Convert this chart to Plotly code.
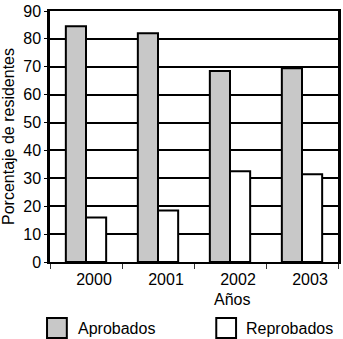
import plotly.graph_objects as go

years = ["2000", "2001", "2002", "2003"]
aprobados = [84.5, 82, 68.5, 69.5]
reprobados = [16, 18.5, 32.5, 31.5]
series_names = ["Aprobados", "Reprobados"]
y_ticks = [0, 10, 20, 30, 40, 50, 60, 70, 80, 90]

W, H = 343, 339
L, R, T, B = 50, 2, 11, 77
pw, ph = W - L - R, H - T - B

def px(x):
    return (x - L) / pw

def py(y):
    return (H - B - y) / ph

FONT = "Liberation Sans, Arial, sans-serif"
GRAY = "#c8c8c8"

fig = go.Figure()
fig.add_trace(go.Bar(x=years, y=aprobados, name=series_names[0],
                     marker=dict(color=GRAY, line=dict(color="black", width=2)),
                     showlegend=False))
fig.add_trace(go.Bar(x=years, y=reprobados, name=series_names[1],
                     marker=dict(color="white", line=dict(color="black", width=2)),
                     showlegend=False))

fig.update_layout(
    width=W, height=H, autosize=False,
    margin=dict(l=L, r=R, t=T, b=B),
    paper_bgcolor="white", plot_bgcolor="white",
    barmode="group", bargap=0.44, bargroupgap=0,
    font=dict(family=FONT, size=16, color="black"),
    xaxis=dict(type="category", showline=True, linecolor="black", linewidth=2,
               mirror=True, ticks="outside", tickson="boundaries", ticklen=5,
               tickcolor="#333", tickwidth=1, showgrid=False,
               ticklabelshift=8, ticklabelstandoff=2, tickfont=dict(size=16)),
    yaxis=dict(range=[0, 90], tickvals=y_ticks, showline=True, linecolor="black",
               linewidth=2.5, mirror=True, ticks="outside", ticklen=3,
               tickcolor="black", showgrid=True, gridcolor="black", gridwidth=1.5,
               zeroline=False, tickfont=dict(size=16),
               title=dict(text="Porcentaje de residentes", standoff=5,
                          font=dict(size=16))),
)

fig.add_annotation(text="Años", xref="paper", yref="paper", x=px(234), y=py(299),
                   xanchor="center", yanchor="middle", showarrow=False,
                   font=dict(size=16))

legend_items = [(series_names[0], GRAY, 47, 67, 76), (series_names[1], "white", 218, 238, 246)]
for name, col, x0, x1, tx in legend_items:
    fig.add_shape(type="rect", xref="paper", yref="paper",
                  x0=px(x0), x1=px(x1), y0=py(318), y1=py(338),
                  fillcolor=col, line=dict(color="black", width=2))
    fig.add_annotation(text=name, xref="paper", yref="paper", x=px(tx), y=py(328),
                       xanchor="left", yanchor="middle", showarrow=False,
                       font=dict(size=16))

fig.write_html("out.html")
